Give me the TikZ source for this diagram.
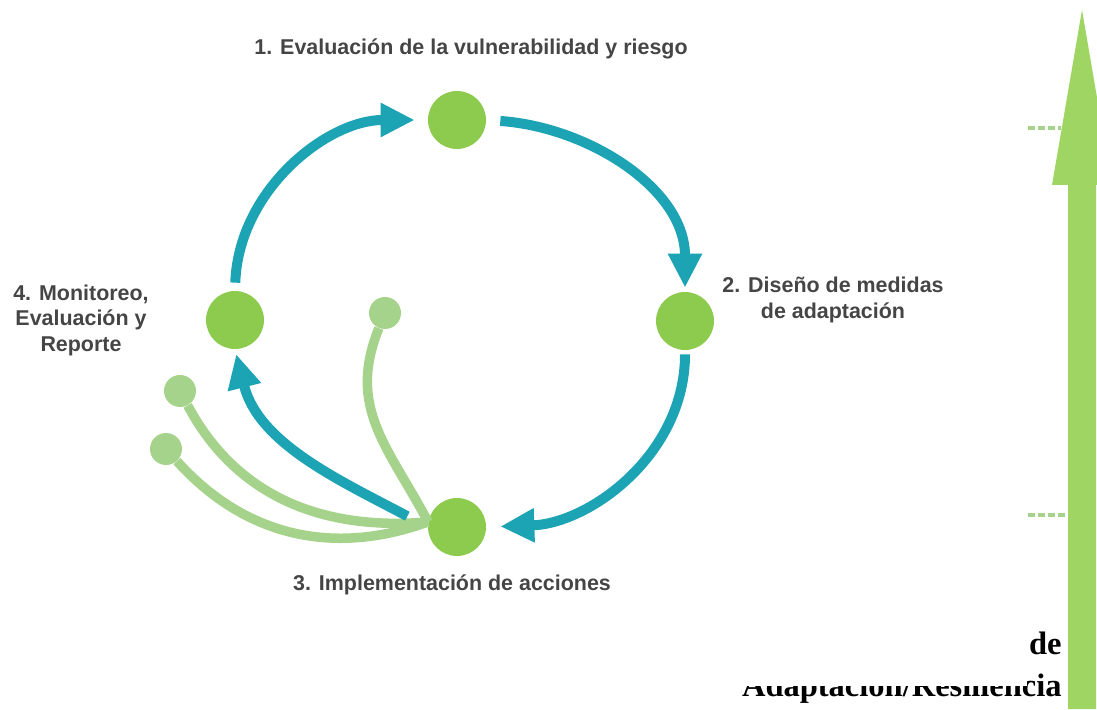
\documentclass[tikz,border=0pt]{standalone}
\usepackage{fontspec}
\setmainfont{Liberation Sans}
\newfontfamily\levelfont{Liberation Serif}
\usepackage{tikz}
\usetikzlibrary{arrows.meta}

\definecolor{stagegreen}{HTML}{8DCB4E}
\definecolor{cycleteal}{HTML}{1CA4B4}
\definecolor{twiggreen}{HTML}{A6D38B}
\definecolor{risegreen}{HTML}{9FD563}
\definecolor{labelgray}{HTML}{454545}

\begin{document}
\begin{tikzpicture}[x=0.02cm,y=0.02cm,
    stage/.style={circle,fill=stagegreen,minimum size=1.16cm,inner sep=0pt},
    bud/.style={circle,fill=twiggreen,minimum size=0.64cm,inner sep=0pt},
    cyc/.style={line width=0.2cm,draw=cycleteal,-{Triangle[length=0.68cm,width=0.64cm]}},
    twig/.style={line width=0.19cm,draw=twiggreen},
    rung/.style={line width=0.07cm,draw=twiggreen,dash pattern=on 0.14cm off 0.06cm},
    lbl/.style={font=\fontsize{12.2}{14.5}\selectfont\bfseries,text=labelgray,align=center},
    lvl/.style={font=\levelfont\fontsize{18.5}{21.5}\selectfont\bfseries,anchor=base east,inner sep=0pt}]
    \useasboundingbox (0,0) rectangle (1097,709);
    % stages of the cycle
    \node[stage] (eval) at (457,589) {};
    \node[stage] (design) at (685,388) {};
    \node[stage] (impl) at (457,182) {};
    \node[stage] (monit) at (235,389) {};
    \node[lbl] (evaltxt) at (471,660) {1. Evaluación de la vulnerabilidad y riesgo};
    \node[lbl] (designtxt) at (833,409) {2. Diseño de medidas\\de adaptación};
    \node[lbl] (impltxt) at (452,124) {3. Implementación de acciones};
    \node[lbl] (monittxt) at (81,389) {4. Monitoreo,\\Evaluación y\\Reporte};
    % branches out of the implementation
    \node[bud] (bud1) at (385,396) {};
    \node[bud] (bud2) at (180,318) {};
    \node[bud] (bud3) at (166,260) {};
    \draw[twig] (bud1) to[out=-112,in=118,looseness=1.1] (impl.170);
    \draw[twig] (bud2) to[out=-62,in=185] (impl.170);
    \draw[twig] (bud3) to[out=-48,in=200] (impl.170);
    % the cycle
    \draw[cyc,shorten <=0.16cm,shorten >=0.26cm] (monit.north) to[out=88,in=180] (eval.west);
    \draw[cyc,shorten <=0.28cm,shorten >=0.08cm] (eval.east) to[out=-4,in=90] (design.north);
    \draw[cyc,shorten <=0.08cm,shorten >=0.28cm] (design.south) to[out=-90,in=2] (impl.east);
    \draw[cyc,shorten <=0.46cm,shorten >=0.1cm] (impl.west) to[out=152,in=-76,looseness=0.95] (monit.south);
    % rising arrow at the right
    \fill[risegreen] (1082,699) -- (1112,524) -- (1096,524) -- (1096,0)
        -- (1068,0) -- (1068,524) -- (1052,524) -- cycle;
    \draw[rung] (1028,581) -- (1061,581);
    \draw[rung] (1028,194) -- (1068,194);
    \node[lvl] (lvltop) at (1062,54) {de};
    \node[lvl] (lvlbot) at (1062,12) {Adaptación/Resiliencia};
    \fill[white] (690,23) rectangle (1027,75);
\end{tikzpicture}
\end{document}
